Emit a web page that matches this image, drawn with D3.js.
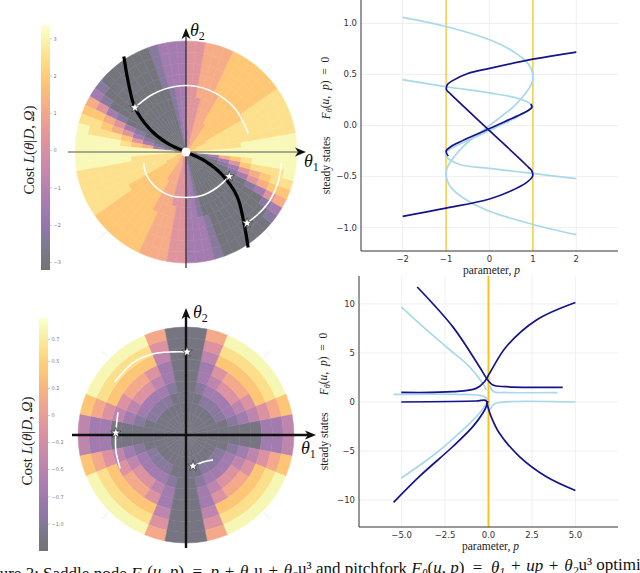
<!DOCTYPE html>
<html>
<head>
<meta charset="utf-8">
<script src="https://cdn.jsdelivr.net/npm/d3@7"></script>
<style>
  body { margin: 0; background: #fff; }
  svg { display: block; }
</style>
</head>
<body>
<svg id="fig" width="640" height="573"></svg>
<script>
// ---------------- data ----------------
// saddle node cost landscape: 5 degree sectors from 0 to 180 deg, rings inner -> outer.
// the other half of the disc is the point reflection of this one
const snLevels = { G: -3.0, g: -2.3, P: -1.5, M: -0.6, K: 0.3, R: 1.2, O: 1.9, Y: 2.5, W: 3.1 };
const snCells = [
  "WWWWWWWWWW", "YYYYYWWWWW", "YYYYYYYYYY", "YYYYYYYYYY", "OYYYYYYYYY", "OOYYYYYYYY",
  "OOOOOOYYYY", "OOOOOOOOOO", "OOOOOOOOOO", "OOOOOOOOOO", "ROOOOOOOOO", "RRROOOOOOO",
  "RRRRRROOOO", "RRRRRRRRRR", "KRRRRRRRRR", "KKKKKRRRRR", "KKKKKKKKKK", "MMKKKKKKKK",
  "PPPPPPPPPP", "PPPPPPPPPP", "ggggggPPPP", "GGGGGGgggg", "GGGGGGGGGG", "GGGGGGGGGG",
  "GGGGGGGGGG", "GGGGGGGGGG", "GGGGGGGGGG", "GGGGGGGGGG", "GGGGGGGGGg", "GGGGGGGGgP",
  "GGGGGGgPKR", "GGGGgPKROO", "GGGgPKROYY", "GGgPKOYYYW", "GgPROYWWWW", "MWWWWWWWWW"
];
const snDomain = [-3.2, 3.37];
const snCbTicks = [3, 2, 1, 0, -1, -2, -3];
const snCbLabels = ["3", "2", "1", "0", "−1", "−2", "−3"];
// minimum valley and optimisation tracks, in units of the disc radius
const snValleyT1 = [-0.56, -0.52, -0.46, -0.32, -0.17, 0, 0.17, 0.32, 0.46, 0.52, 0.56];
const snValleyT2 = [0.86, 0.63, 0.40, 0.20, 0.08, 0, -0.08, -0.20, -0.40, -0.63, -0.86];
const snTrackAT1 = [-0.46, -0.30, -0.10, 0.10, 0.30, 0.45, 0.56];
const snTrackAT2 = [0.40, 0.52, 0.59, 0.59, 0.51, 0.38, 0.17];
const snTrackBT1 = [-0.38, -0.36, -0.28, -0.15, 0, 0.15, 0.28, 0.39];
const snTrackBT2 = [-0.10, -0.20, -0.31, -0.39, -0.41, -0.39, -0.32, -0.22];
const snTrackCT1 = [0.55, 0.66, 0.76, 0.83, 0.86];
const snTrackCT2 = [-0.64, -0.55, -0.43, -0.27, -0.10];
const snStarT1 = [-0.46, 0.39, 0.55];
const snStarT2 = [0.40, -0.22, -0.64];

// pitchfork cost landscape: 11.25 degree sectors from 0 to 90 deg, mirrored into all quadrants
const pfLevels = { G: -1.15, g: -0.95, P: -0.72, M: -0.45, K: -0.15, R: 0.15, O: 0.4, Y: 0.6, W: 0.8 };
const pfCells = [
  "GGGGGGGPPM", "GGGGgPMKRO", "GGGgPMKOYW", "GGGgPKROYW",
  "GGGgPKROYW", "GGGgPMKOYW", "GGGGgPPMKR", "GGGGGGGGGG"
];
const pfDomain = [-1.25, 0.9];
const pfCbTicks = [0.7, 0.5, 0.25, 0, -0.25, -0.5, -0.75, -1.0];
const pfCbLabels = ["0.7", "0.5", "0.2", "0", "−0.2", "−0.5", "−0.7", "−1.0"];
const pfTrackAT1 = [-0.66, -0.49, -0.31, -0.12, 0.01];
const pfTrackAT2 = [0.49, 0.67, 0.75, 0.77, 0.77];
const pfTrackBT1 = [-0.63, -0.65, -0.65, -0.61];
const pfTrackBT2 = [0.21, 0.02, -0.14, -0.31];
const pfTrackCT1 = [0.065, 0.157, 0.25];
const pfTrackCT2 = [-0.287, -0.25, -0.23];
const pfStarT1 = [0.01, -0.65, 0.065];
const pfStarT2 = [0.77, 0.02, -0.287];

// saddle node steady states (parameter p, state u)
const snXTicks = [-2, -1, 0, 1, 2];
const snYTicks = [1.0, 0.5, 0.0, -0.5, -1.0];
const snTargets = [-1, 1];
const snLightAP = [-2, -1, 0, 0.53, 0.9, 1.0, 0.96, 0.59, 0, -0.59, -0.96, -1.0, -0.9, -0.53, 0, 1, 2];
const snLightAU = [1.06, 0.97, 0.84, 0.73, 0.6, 0.48, 0.40, 0.2, 0.0, -0.2, -0.40, -0.48, -0.6, -0.73, -0.84, -0.97, -1.07];
const snLightBP = [-2, -1, 0, 0.7, 0.97, 0.9, 0, -0.99, -1.0, -0.7, 0, 1, 2];
const snLightBU = [0.45, 0.38, 0.32, 0.26, 0.2, 0.15, -0.05, -0.26, -0.3, -0.38, -0.42, -0.47, -0.52];
const snDarkAP = [-2, -1, 0, 0.5, 0.85, 0.99, 0.98, 0.9, 0, -0.9, -0.99, -0.97, -0.85, -0.5, 0, 1, 2];
const snDarkAU = [-0.89, -0.81, -0.72, -0.64, -0.56, -0.5, -0.45, -0.41, -0.05, 0.31, 0.35, 0.40, 0.44, 0.51, 0.56, 0.65, 0.72];
const snDarkBP = [-0.95, -1.0, -0.9, 0, 0.9, 0.98, 0.95];
const snDarkBU = [-0.30, -0.25, -0.21, -0.03, 0.15, 0.18, 0.21];

// pitchfork steady states
const pfXTicks = [-5, -2.5, 0, 2.5, 5];
const pfYTicks = [10, 5, 0, -5, -10];
const pfTargets = [0];
const pfDarkAP = [-4.1, -2.05, -0.52, -0.04, 0.25, 1.0, 4.27];
const pfDarkAU = [11.73, 7.66, 3.6, 2.24, 1.73, 1.56, 1.49];
const pfDarkBP = [-5.02, -2.05, -0.71, -0.23, 0.06, 1.02, 2.74, 5.0];
const pfDarkBU = [0.98, 1.05, 1.39, 2.07, 2.92, 5.63, 8.34, 10.14];
const pfDarkCP = [-5.02, -0.71, -0.15, -0.04, 0.15, 0.63, 1.78, 3.31, 5.0];
const pfDarkCU = [0, 0.1, 0.15, -0.47, -1.49, -3.19, -5.56, -7.59, -9.02];
const pfDarkDP = [-5.46, -3.97, -2.05, -0.9, -0.33, -0.13, -0.04];
const pfDarkDU = [-10.24, -7.59, -4.54, -2.51, -1.15, -0.47, 0.1];
const pfLightAP = [-5.02, -3.97, -2.43, -1.09, -0.33, -0.13];
const pfLightAU = [9.7, 8.0, 5.63, 3.59, 1.9, 1.22];
const pfLightBP = [-5.46, -0.71, -0.23, -0.04];
const pfLightBU = [0.78, 0.71, 0.54, 0.2];
const pfLightCP = [0.05, 0.3, 1.0, 3.98];
const pfLightCU = [1.7, 1.05, 0.97, 0.95];
const pfLightDP = [0.1, 0.25, 0.6, 5.0];
const pfLightDU = [-0.8, -0.3, -0.05, 0.0];
const pfLightEP = [-5.02, -3.0, -1.48, -0.52, -0.13];
const pfLightEU = [-7.76, -5.2, -2.85, -1.15, -0.14];

// ---------------- drawing ----------------
const svg = d3.select("#fig");
const serif = "'Liberation Serif', 'DejaVu Serif', serif";
const sans = "'DejaVu Sans', 'Liberation Sans', sans-serif";
const lightBlue = "#a8d8ea";
const darkBlue = "#14148a";
const gold = "#f5c518";

// muted inferno, as if the colours were laid at half alpha over white
const cmap = t => d3.interpolateRgb(d3.interpolateInferno(t), "#ffffff")(0.45);

function colorbar(o) {
  const id = "grad" + o.id;
  const grad = svg.append("defs").append("linearGradient")
    .attr("id", id).attr("x1", 0).attr("x2", 0).attr("y1", 1).attr("y2", 0);
  d3.range(0, 1.0001, 0.05).forEach(t => grad.append("stop").attr("offset", t).attr("stop-color", cmap(t)));
  const y = d3.scaleLinear().domain(o.domain).range([o.bottom, o.top]);
  svg.append("rect").attr("x", o.x).attr("y", o.top).attr("width", o.w)
    .attr("height", o.bottom - o.top).attr("fill", `url(#${id})`);
  const g = svg.append("g");
  o.ticks.forEach((v, i) => {
    g.append("line").attr("x1", o.x + o.w).attr("x2", o.x + o.w + 2)
      .attr("y1", y(v)).attr("y2", y(v)).attr("stroke", "#999").attr("stroke-width", 0.5);
    g.append("text").attr("x", o.x + o.w + 3.5).attr("y", y(v)).attr("dy", "0.35em")
      .attr("font-family", sans).attr("font-size", 5).attr("fill", "#777").text(o.labels[i]);
  });
  // label: Cost  L(θ|D, Ω)
  const t = svg.append("text").attr("transform", `translate(${o.labelX},${o.labelY}) rotate(-90)`)
    .attr("text-anchor", "middle")
    .attr("font-family", serif).attr("font-size", 15).attr("fill", "#222");
  t.append("tspan").text("Cost    ");
  t.append("tspan").attr("font-style", "italic").text("L");
  t.append("tspan").text("(");
  t.append("tspan").attr("font-style", "italic").text("θ");
  t.append("tspan").text("|");
  t.append("tspan").attr("font-style", "italic").text("D");
  t.append("tspan").text(", ");
  t.append("tspan").attr("font-style", "italic").text("Ω");
  t.append("tspan").text(")");
}

function arrowHead(g, x, y, dir, color) {
  // dir: "right" or "up"
  const p = dir === "right"
    ? `M${x},${y} L${x - 11},${y - 4.5} L${x - 8},${y} L${x - 11},${y + 4.5} Z`
    : `M${x},${y} L${x - 4.5},${y + 11} L${x},${y + 8} L${x + 4.5},${y + 11} Z`;
  g.append("path").attr("d", p).attr("fill", color);
}

function polarPanel(o) {
  const g = svg.append("g");
  const r = d3.scaleLinear().domain([0, 1]).range([0, o.R]);
  const x = d3.scaleLinear().domain([-1, 1]).range([o.cx - o.R, o.cx + o.R]);
  const y = d3.scaleLinear().domain([-1, 1]).range([o.cy + o.R, o.cy - o.R]);
  const color = d3.scaleSequential(cmap).domain(o.domain);
  const arc = d3.arc();
  const cg = g.append("g").attr("transform", `translate(${o.cx},${o.cy})`);
  o.cells.forEach(c => {
    const col = color(c.v);
    cg.append("path")
      .attr("d", arc({ innerRadius: r(c.r0), outerRadius: r(c.r1),
        startAngle: Math.PI / 2 - c.a1, endAngle: Math.PI / 2 - c.a0 }))
      .attr("fill", col).attr("stroke", col).attr("stroke-width", 0.5);
  });
  // faint polar grid spokes outside the disc
  [45, 135, 225, 315].forEach(d => {
    const a = d * Math.PI / 180;
    g.append("line").attr("x1", x(Math.cos(a) * 1.02)).attr("y1", y(Math.sin(a) * 1.02))
      .attr("x2", x(Math.cos(a) * 1.1)).attr("y2", y(Math.sin(a) * 1.1))
      .attr("stroke", "#ececec").attr("stroke-width", 1);
  });
  // axes
  g.append("line").attr("x1", o.hx0).attr("x2", o.hx1 - 6).attr("y1", o.cy).attr("y2", o.cy)
    .attr("stroke", o.hAxisColor).attr("stroke-width", o.axisW);
  g.append("line").attr("x1", o.cx).attr("x2", o.cx).attr("y1", o.vy0).attr("y2", o.vy1 + 6)
    .attr("stroke", o.vAxisColor).attr("stroke-width", o.axisW);
  arrowHead(g, o.hx1, o.cy, "right", "#111");
  arrowHead(g, o.cx, o.vy1, "up", "#111");
  const l1 = g.append("text").attr("x", o.t1x).attr("y", o.t1y).attr("font-family", serif)
    .attr("font-size", 18).attr("fill", "#111");
  l1.append("tspan").attr("font-style", "italic").text("θ");
  l1.append("tspan").attr("font-size", 12).attr("dy", 4).text("1");
  const l2 = g.append("text").attr("x", o.t2x).attr("y", o.t2y).attr("font-family", serif)
    .attr("font-size", 18).attr("fill", "#111");
  l2.append("tspan").attr("font-style", "italic").text("θ");
  l2.append("tspan").attr("font-size", 12).attr("dy", 4).text("2");

  const line = d3.line().x(d => x(d[0])).y(d => y(d[1])).curve(d3.curveCatmullRom);
  if (o.valley) {
    g.append("path").attr("d", line(d3.zip(o.valley[0], o.valley[1])))
      .attr("fill", "none").attr("stroke", "#000").attr("stroke-width", 3.2);
    g.append("circle").attr("cx", x(0)).attr("cy", y(0)).attr("r", 4.5).attr("fill", "#fff");
  }
  o.tracks.forEach(tr => {
    g.append("path").attr("d", line(d3.zip(tr[0], tr[1])))
      .attr("fill", "none").attr("stroke", "#fff").attr("stroke-width", 1.6);
  });
  const star = d3.symbol().type(d3.symbolStar).size(34);
  o.stars[0].forEach((s, i) => {
    g.append("path").attr("d", star())
      .attr("transform", `translate(${x(s)},${y(o.stars[1][i])})`)
      .attr("fill", "#fff").attr("stroke", "#333").attr("stroke-width", 0.7);
  });
}

function mathLabel(t, parts) {
  parts.forEach(p => {
    const s = t.append("tspan").text(p[0]);
    if (p[1] === "i") s.attr("font-style", "italic");
    if (p[1] === "sub") s.attr("font-size", "0.7em").attr("dy", "0.3em").attr("font-style", "italic");
    if (p[1] === "up") s.attr("dy", "-0.3em");
  });
}

function linePanel(o) {
  const g = svg.append("g");
  const x = d3.scaleLinear().domain(o.xlim).range([o.left, o.right]);
  const y = d3.scaleLinear().domain(o.ylim).range([o.bottom, o.top]);
  g.append("g").selectAll("line").data(o.xticks).join("line")
    .attr("x1", d => x(d)).attr("x2", d => x(d)).attr("y1", o.top).attr("y2", o.bottom)
    .attr("stroke", "#ececec").attr("stroke-width", 0.8);
  g.append("g").selectAll("line").data(o.yticks).join("line")
    .attr("x1", o.left).attr("x2", o.right).attr("y1", d => y(d)).attr("y2", d => y(d))
    .attr("stroke", "#ececec").attr("stroke-width", 0.8);
  g.append("g").selectAll("text").data(o.xticks).join("text")
    .attr("x", d => x(d)).attr("y", o.bottom + 11).attr("text-anchor", "middle")
    .attr("font-family", sans).attr("font-size", 8.5).attr("fill", "#333").text(o.xfmt);
  g.append("g").selectAll("text").data(o.yticks).join("text")
    .attr("x", o.left - 4).attr("y", d => y(d)).attr("dy", "0.35em").attr("text-anchor", "end")
    .attr("font-family", sans).attr("font-size", 8.5).attr("fill", "#333").text(o.yfmt);
  g.append("g").selectAll("line").data(o.targets).join("line")
    .attr("x1", d => x(d)).attr("x2", d => x(d)).attr("y1", o.top).attr("y2", o.bottom)
    .attr("stroke", gold).attr("stroke-width", o.goldW);
  const line = d3.line().x(d => x(d[0])).y(d => y(d[1])).curve(d3.curveCatmullRom);
  o.light.forEach(c => g.append("path").attr("d", line(d3.zip(c[0], c[1])))
    .attr("fill", "none").attr("stroke", lightBlue).attr("stroke-width", 1.7));
  o.dark.forEach(c => g.append("path").attr("d", line(d3.zip(c[0], c[1])))
    .attr("fill", "none").attr("stroke", darkBlue).attr("stroke-width", 1.7));
  g.append("line").attr("x1", o.left).attr("x2", o.right).attr("y1", o.bottom).attr("y2", o.bottom)
    .attr("stroke", "#333").attr("stroke-width", 1);
  g.append("line").attr("x1", o.left).attr("x2", o.left).attr("y1", o.top).attr("y2", o.bottom)
    .attr("stroke", "#333").attr("stroke-width", 1);
  const xl = g.append("text").attr("x", (o.left + o.right) / 2 + 2).attr("y", o.bottom + 23)
    .attr("text-anchor", "middle").attr("font-family", serif).attr("font-size", 11.5).attr("fill", "#222");
  mathLabel(xl, [["parameter, "], ["p", "i"]]);
  const yl = g.append("text").attr("transform", `translate(${o.left - 31},${(o.top + o.bottom) / 2}) rotate(-90)`)
    .attr("text-anchor", "middle").attr("font-family", serif).attr("font-size", 11.5).attr("fill", "#222");
  mathLabel(yl, [["steady states\u2003\u2002"], ["F", "i"], ["θ", "sub"], ["(", "up"], ["u", "i"], [",\u2002"], ["p", "i"], [")\u2002=\u20020"]]);
}

// build polar cells from the sector strings
const snPolar = [];
snCells.forEach((s, i) => {
  const a0 = i * 5 * Math.PI / 180, a1 = (i + 1) * 5 * Math.PI / 180;
  s.split("").forEach((c, j) => {
    [0, Math.PI].forEach(off => snPolar.push({ a0: a0 + off, a1: a1 + off, r0: j / 10, r1: (j + 1) / 10, v: snLevels[c] }));
  });
});
const pfPolar = [];
const pw = 90 / pfCells.length * Math.PI / 180;
pfCells.forEach((s, i) => {
  s.split("").forEach((c, j) => {
    const v = pfLevels[c], r0 = j / 10, r1 = (j + 1) / 10;
    pfPolar.push({ a0: i * pw, a1: (i + 1) * pw, r0, r1, v });
    pfPolar.push({ a0: Math.PI - (i + 1) * pw, a1: Math.PI - i * pw, r0, r1, v });
    pfPolar.push({ a0: Math.PI + i * pw, a1: Math.PI + (i + 1) * pw, r0, r1, v });
    pfPolar.push({ a0: 2 * Math.PI - (i + 1) * pw, a1: 2 * Math.PI - i * pw, r0, r1, v });
  });
});

colorbar({ id: "sn", x: 41, w: 9, top: 25, bottom: 270, domain: snDomain, ticks: snCbTicks,
  labels: snCbLabels, labelX: 34, labelY: 150 });
colorbar({ id: "pf", x: 39, w: 9, top: 318, bottom: 551, domain: pfDomain, ticks: pfCbTicks,
  labels: pfCbLabels, labelX: 32, labelY: 441 });

polarPanel({ cx: 186, cy: 152, R: 111, domain: snDomain, cells: snPolar,
  hx0: 68, hx1: 306, vy0: 268, vy1: 28, axisW: 1.3, hAxisColor: "#8c8c7c", vAxisColor: "#333",
  t1x: 304, t1y: 167, t2x: 190, t2y: 36,
  valley: [snValleyT1, snValleyT2],
  tracks: [[snTrackAT1, snTrackAT2], [snTrackBT1, snTrackBT2], [snTrackCT1, snTrackCT2]],
  stars: [snStarT1, snStarT2] });

polarPanel({ cx: 186, cy: 435, R: 108, domain: pfDomain, cells: pfPolar,
  hx0: 72, hx1: 316, vy0: 548, vy1: 308, axisW: 2.4, hAxisColor: "#111", vAxisColor: "#111",
  t1x: 301, t1y: 454, t2x: 193, t2y: 318,
  valley: null,
  tracks: [[pfTrackAT1, pfTrackAT2], [pfTrackBT1, pfTrackBT2], [pfTrackCT1, pfTrackCT2]],
  stars: [pfStarT1, pfStarT2] });

linePanel({ left: 361, right: 618, top: 0, bottom: 251, xlim: [-2.96, 2.96], ylim: [-1.23, 1.23],
  xticks: snXTicks, yticks: snYTicks, targets: snTargets, goldW: 1.2,
  xfmt: d3.format("d"), yfmt: d3.format(".1f"),
  light: [[snLightAP, snLightAU], [snLightBP, snLightBU]],
  dark: [[snDarkAP, snDarkAU], [snDarkBP, snDarkBU]] });

linePanel({ left: 359, right: 618, top: 276, bottom: 527, xlim: [-7.45, 7.45], ylim: [-12.75, 12.85],
  xticks: pfXTicks, yticks: pfYTicks, targets: pfTargets, goldW: 2,
  xfmt: d3.format(".1f"), yfmt: d3.format("d"),
  light: [[pfLightAP, pfLightAU], [pfLightBP, pfLightBU], [pfLightCP, pfLightCU], [pfLightDP, pfLightDU], [pfLightEP, pfLightEU]],
  dark: [[pfDarkAP, pfDarkAU], [pfDarkBP, pfDarkBU], [pfDarkCP, pfDarkCU], [pfDarkDP, pfDarkDU]] });

// caption, cut by the bottom edge as in the source
const cap = svg.append("text").attr("x", -23).attr("y", 579).attr("font-family", serif)
  .attr("font-size", 17).attr("fill", "#111");
mathLabel(cap, [["Figure 3: Saddle node "], ["F", "i"], ["θ", "sub"], ["(", "up"], ["u", "i"], [", "], ["p", "i"],
  [")\u2002=\u2002"], ["p", "i"], ["\u2004+\u2004"], ["θ", "i"], ["1", "sub"], ["u", "up"], ["\u2004+\u2004"], ["θ", "i"], ["2", "sub"],
  ["u", "up"], ["³"], [" and pitchfork "], ["F", "i"], ["θ", "sub"], ["(", "up"], ["u", "i"], [", "], ["p", "i"],
  [")\u2002=\u2002"], ["θ", "i"], ["1", "sub"], ["\u2004+\u2004", "up"], ["up", "i"], ["\u2004+\u2004"], ["θ", "i"], ["2", "sub"], ["u", "up"],
  ["³"], [" optimized"]]);
</script>
</body>
</html>
